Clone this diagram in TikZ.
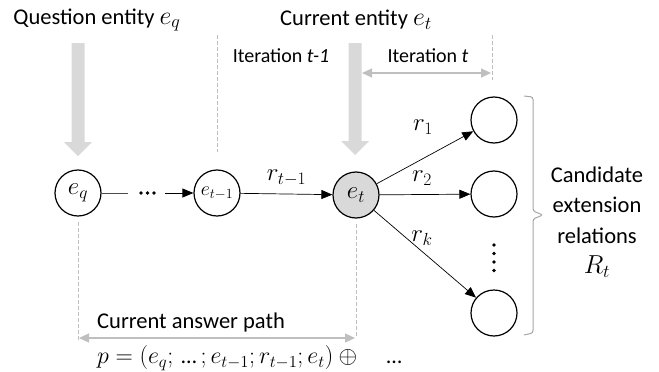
\RequirePackage{fix-cm}
\documentclass[tikz,border=0pt]{standalone}
\usepackage{fontspec}
\setmainfont{Carlito}
\usetikzlibrary{arrows.meta}
\definecolor{biggray}{HTML}{D9D9D9}
\definecolor{dashgray}{HTML}{BFBFBF}
\definecolor{bracegray}{HTML}{A6A6A6}
\definecolor{entfill}{HTML}{D9D9D9}
\newcommand\mydownarrow[4]{% x, top y, head base y, tip y
  \fill[biggray] (#1-6.5,#2) -- (#1+6.5,#2) -- (#1+6.5,#3) -- (#1+14,#3) -- (#1,#4) -- (#1-14,#3) -- (#1-6.5,#3) -- cycle;}
\newcommand\mybigmath[1]{{\fontsize{26}{30}\selectfont$#1$}}
\newcommand\myell{\mbox{\fontsize{22}{24}\selectfont …}}
\begin{document}
\begin{tikzpicture}[x=1pt,y=-1pt,
  ent/.style={circle,draw=black,line width=1.2pt,minimum size=46pt,inner sep=0pt,font=\fontsize{25}{28}\selectfont},
  rel/.style={-{Triangle[length=11pt,width=9pt]},line width=0.7pt},
  guide/.style={dashgray,line width=0.8pt,dash pattern=on 4pt off 2pt},
  spanarrow/.style={{Triangle[length=10pt,width=9pt]}-{Triangle[length=10pt,width=9pt]},dashgray,line width=1.2pt},
  lbl/.style={font=\fontsize{22.5}{30.5}\selectfont,inner sep=0pt},
  itlbl/.style={font=\fontsize{20}{24}\selectfont,inner sep=0pt},
  rlbl/.style={font=\fontsize{25}{28}\selectfont,inner sep=0pt},
  dot/.style={circle,fill=black,inner sep=0pt,minimum size=3.6pt}
]
\useasboundingbox (0,0) rectangle (659,372);
% titles
\node[lbl] (qtitle) at (97,20) {Question entity \mybigmath{e_q}};
\node[lbl] (ctitle) at (356,20) {Current entity \mybigmath{e_t}};
% big arrows
\mydownarrow{78}{43}{142}{156}
\mydownarrow{355}{43}{141}{155}
% iteration marks
\coordinate (g1t) at (217,35); \coordinate (g1b) at (217,152);
\draw[guide] (g1t) -- (g1b);
\coordinate (g2t) at (492,35); \coordinate (g2b) at (492,80);
\draw[guide] (g2t) -- (g2b);
\node[itlbl] (it1) at (281,56) {Iteration \textit{t-1}};
\node[itlbl] (it2) at (428,56) {Iteration \textit{t}};
\coordinate (itL) at (362,73); \coordinate (itR) at (491,73);
\draw[spanarrow] (itL) -- (itR);
% entities
\node[ent] (eq) at (78,193) {$e_q$};
\node[ent,font=\fontsize{20}{24}\selectfont] (et1) at (217,193) {$e_{t-1}$};
\node[ent,fill=entfill] (et) at (356,195) {$e_t$};
\node[ent] (c1) at (494,120) {};
\node[ent] (c2) at (494,194) {};
\node[ent] (ck) at (494,313) {};
% chain
\coordinate (dl) at (128,193); \coordinate (dr) at (165,193);
\draw[line width=0.8pt,black!70] (eq) -- (dl);
\node[dot] (d1) at (141,193) {};
\node[dot] (d2) at (147.5,193) {};
\node[dot] (d3) at (154,193) {};
\draw[rel] (dr) -- (et1);
\draw[rel] (et1) -- node[rlbl,above=8pt] (rt1) {$r_{t-1}$} (et);
\draw[rel] (et) -- (c1);
\draw[rel] (et) -- (c2);
\draw[rel] (et) -- (ck);
\node[rlbl] (r1) at (423,127) {$r_1$};
\node[rlbl] (r2) at (422,178) {$r_2$};
\node[rlbl] (rk) at (422,238) {$r_k$};
% vertical dots
\node[dot] (v1) at (494,245) {};
\node[dot] (v2) at (494,253.5) {};
\node[dot] (v3) at (494,262) {};
\node[dot] (v4) at (494,270.5) {};
% brace
\draw[bracegray,line width=1pt,rounded corners=2.5pt] (524,96) -- (533,97) -- (533,211) -- (543,215) -- (533,219) -- (533,333) -- (524,335);
\node[lbl,align=center] (cand) at (597,222) {Candidate\\extension\\relations\\\mybigmath{R_t}};
% answer path
\coordinate (a1t) at (78,222); \coordinate (a1b) at (78,341);
\draw[guide] (a1t) -- (a1b);
\coordinate (a2t) at (356,224); \coordinate (a2b) at (356,338);
\draw[guide] (a2t) -- (a2b);
\coordinate (apL) at (79,338); \coordinate (apR) at (355,338);
\draw[spanarrow] (apL) -- (apR);
\node[lbl,anchor=west] (aplbl) at (97,322) {Current answer path};
\node[anchor=west,inner sep=0pt,font=\fontsize{24}{28}\selectfont] (form) at (97,358) {$p=(e_q;\,\myell\,;e_{t-1};r_{t-1};e_t)\oplus\quad\myell$};
\end{tikzpicture}
\end{document}
